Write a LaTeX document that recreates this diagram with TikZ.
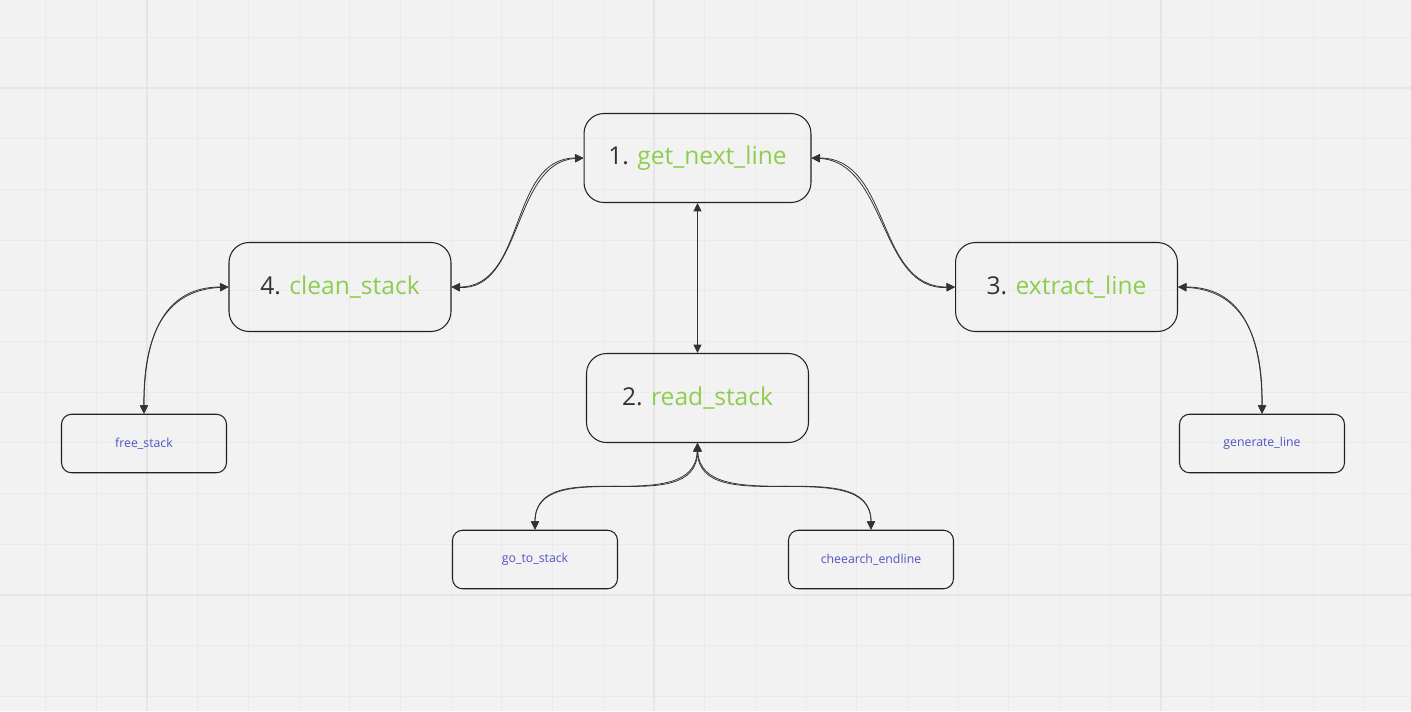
\documentclass[tikz,border=0pt]{standalone}
\usepackage{fontspec}
\setmainfont{Open Sans}
\usetikzlibrary{arrows.meta}
\definecolor{bgcol}{RGB}{242,242,242}
\definecolor{gridcol}{RGB}{234,234,234}
\definecolor{majorcol}{RGB}{229,229,229}
\definecolor{boxline}{RGB}{34,34,34}
\definecolor{linkcol}{RGB}{51,51,51}
\definecolor{numcol}{RGB}{51,51,51}
\definecolor{namecol}{RGB}{141,206,80}
\definecolor{subcol}{RGB}{80,84,196}
\begin{document}
\begin{tikzpicture}[x=0.02cm, y=-0.02cm,
    bigbox/.style={draw=boxline, line width=0.6pt, rounded corners=0.4cm,
        minimum width=4.44cm, minimum height=1.78cm, text=numcol,
        font=\fontsize{14}{16}\selectfont},
    smallbox/.style={draw=boxline, line width=0.6pt, rounded corners=0.2cm,
        minimum width=3.3cm, minimum height=1.17cm, text=subcol,
        font=\fontsize{7}{8}\selectfont},
    link/.style={draw=linkcol, line width=0.45pt,
        {Triangle[length=4.8pt,width=4.6pt]}-{Triangle[length=4.8pt,width=4.6pt]}}]
    % background and grid
    \fill [bgcol] (0,0) rectangle (1411,711);
    \useasboundingbox (0,0) rectangle (1411,711);
    \foreach \i in {0,...,27}
        \draw [gridcol, line width=0.5pt] ({45.6+50.7*\i},0) -- ({45.6+50.7*\i},711);
    \foreach \j in {0,...,13}
        \draw [gridcol, line width=0.5pt] (0,{37.3+50.7*\j}) -- (1411,{37.3+50.7*\j});
    \foreach \i in {2,12,22}
        \draw [majorcol, line width=0.6pt] ({45.6+50.7*\i},0) -- ({45.6+50.7*\i},711);
    \foreach \j in {1,11}
        \draw [majorcol, line width=0.6pt] (0,{37.3+50.7*\j}) -- (1411,{37.3+50.7*\j});

    % main steps
    \node [bigbox, minimum width=4.54cm] (getnext) at (697.5,158) {1. \textcolor{namecol}{get\_next\_line}};
    \node [bigbox] (readstack) at (697.5,398) {2. \textcolor{namecol}{read\_stack}};
    \node [bigbox] (extract) at (1066.5,287) {3. \textcolor{namecol}{extract\_line}};
    \node [bigbox] (clean) at (340,287) {4. \textcolor{namecol}{clean\_stack}};

    % helpers
    \node [smallbox] (freestack) at (144,443.5) {free\_stack};
    \node [smallbox] (generate) at (1262,443.5) {generate\_line};
    \node [smallbox] (gotostack) at (535,559.5) {go\_to\_stack};
    \node [smallbox] (endline) at (871,559.5) {cheearch\_endline};

    % links
    \draw [link, line width=0.7pt] (getnext.south) -- (readstack.north);
    \draw [link] (clean.east) .. controls +(75,0) and +(-75,0) .. (getnext.west);
    \draw [link] (clean.east) .. controls +(71,4) and +(-71,4) .. (getnext.west);
    \draw [link] (getnext.east) .. controls +(80,0) and +(-80,0) .. (extract.west);
    \draw [link] (getnext.east) .. controls +(76,4) and +(-76,4) .. (extract.west);
    \draw [link] (clean.west) .. controls +(-60,0) and +(0,-85) .. (freestack.north);
    \draw [link] (clean.west) .. controls +(-63,3) and +(-1,-80) .. (freestack.north);
    \draw [link] (extract.east) .. controls +(60,0) and +(0,-85) .. (generate.north);
    \draw [link] (extract.east) .. controls +(63,3) and +(1,-80) .. (generate.north);
    \draw [link] (readstack.south) .. controls +(0,80) and +(0,-80) .. (gotostack.north);
    \draw [link] (readstack.south) .. controls +(-3,77) and +(0,-77) .. (gotostack.north);
    \draw [link] (readstack.south) .. controls +(0,80) and +(0,-80) .. (endline.north);
    \draw [link] (readstack.south) .. controls +(3,77) and +(0,-77) .. (endline.north);
\end{tikzpicture}
\end{document}
